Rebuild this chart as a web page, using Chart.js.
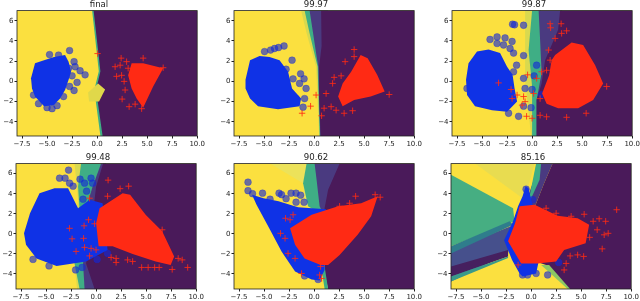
<!DOCTYPE html>
<html>
<head>
<meta charset="utf-8">
<script src="https://cdn.jsdelivr.net/npm/chart.js@4"></script>
<style>
  html, body { margin: 0; padding: 0; background: #fff; width: 640px; height: 301px; overflow: hidden; }
  canvas { position: absolute; }
</style>
</head>
<body>
<script>
const xTicks = [-7.5, -5, -2.5, 0, 2.5, 5, 7.5, 10];
const yTicks = [-4, -2, 0, 2, 4, 6];
const titles = ["final", "99.97", "99.87", "99.48", "90.62", "85.16"];

// panel 1: final
const p1Olive = [[-0.9,-1.1],[0.1,-0.2],[0.8,-0.8],[0.2,-2],[-0.8,-2]];
const p1Teal = [[-0.5,7],[-0.03,2.8],[0.17,1],[-0.28,-0.85],[0.33,-5.4],[0.55,-5.4],[-0.1,-0.85],[0.33,1],[0.13,2.8],[-0.35,7]];
const p1Purple = [[-0.43,7],[10,7],[10,-5.4],[0.45,-5.4],[-0.2,-0.85],[0.25,1],[0.05,2.8]];
const p1PurpleLight = [[0.1,-1.8],[1.2,-0.9],[2.1,-5.4],[0.45,-5.4]];
const p1BlueBody = [[-6.6,0.3],[-6.2,1.8],[-5.3,2.1],[-4.3,2.4],[-3.2,2.6],[-2.85,1.95],[-2.6,0.95],[-2.85,0.15],[-3.2,-0.85],[-3.7,-1.7],[-4.35,-2.35],[-5.3,-2.45],[-6.2,-1.5],[-6.5,-0.7]];
const p1Blue = [[-4.75,2.65],[-3.85,2.6],[-2.75,3.05],[-2.3,1.95],[-2.2,1.45],[-1.7,1.05],[-1.2,0.65],[-2,-0.1],[-2.75,-0.5],[-2.3,-0.9],[-3.35,-1.5],[-5,-2.6],[-4.5,-2.7],[-4,-2.4],[-5.85,-2.2],[-6.35,-1.35],[-2.5,0.55],[-2.85,1.3]];
const p1RedBody = [[3.45,1.8],[4.6,1.8],[6.6,1.3],[5.6,-0.5],[4.6,-2.6],[3.95,-1.7],[3.45,-0.7],[3.1,0.6]];
const p1Red = [[1.8,1.45],[2.4,2.3],[2.95,1.95],[1.95,0.5],[2.7,0],[2.8,-0.85],[2.5,-1.75],[3.2,-2.5],[3.8,-2.25],[4.45,-2.7],[4.6,2.3],[6.6,1.35],[0.05,2.75],[2.3,1.6],[2.45,0.6],[3.1,1.3]];

// panel 2: 99.97
const p2Olive = [[-1.3,7],[-0.75,4.75],[-0.1,2.45],[0.2,1.45],[0.35,-1.85],[0.5,-5.4],[0.7,-5.4],[0.7,7]];
const p2Teal = [[-0.95,7],[-0.45,4.75],[0.1,2.45],[0.35,1.45],[0.45,-1.85],[0.55,-5.4],[0.7,-5.4],[0.7,7]];
const p2PurpleMid = [[-0.45,7],[-0.1,4.75],[0.25,2.45],[0.42,1.45],[0.5,-1.85],[0.62,-5.4],[1,-5.4],[1.4,7]];
const p2Purple = [[0.7,7],[10,7],[10,-5.4],[0.65,-5.4],[0.52,-1.85],[0.5,1.45],[0.75,3.5]];
const p2BlueBody = [[-6.85,0.15],[-6.4,2.1],[-5.45,2.5],[-4.45,2.4],[-3.45,2.1],[-2.6,0.95],[-2.2,-0.7],[-1.3,-1.7],[-1.45,-2.45],[-3.6,-2.75],[-5.6,-2.45],[-6.4,-1.7],[-6.85,-0.7]];
const p2Blue = [[-4.95,2.95],[-4.35,3.1],[-3.95,3.25],[-3.55,3.35],[-3,3.5],[-2.2,2.1],[-1.35,0.75],[-2.1,0.25],[-1,0.25],[-1.45,-0.2],[-0.8,-0.7],[-0.95,-1.7],[-1.1,-2.55],[-2.8,1.2],[-1.8,-1.7]];
const p2RedBody = [[4.65,2.6],[5.35,2.3],[6.3,0.65],[7.05,-1],[5.65,-1.5],[4,-1.85],[2.85,-2.45],[2.4,-1.5],[2.85,-0.2],[3.7,0.95]];
const p2Red = [[4,3.15],[3.1,1.95],[4,2.45],[2,0.4],[2.7,0.55],[1.85,-0.2],[1.2,-1.2],[0.2,-1.35],[1,-2.65],[0.75,-3.4],[-0.35,-2.45],[-1.2,-3.15],[3.85,-2.9],[7.5,-1.3],[2.2,-2.85],[1.7,-2.5],[3,-3.15]];

// panel 3: 99.87
const p3Olive = [[-0.7,7],[-0.7,0.15],[-0.1,-5.4],[0.5,-5.4],[0.7,7]];
const p3Teal = [[0,7],[-0.35,3.1],[0,-0.5],[0,-5.4],[0.5,-5.4],[1,-0.5],[0.9,7]];
const p3PurpleMid = [[0.65,7],[0.8,4.1],[0.95,0.8],[0.45,-1.85],[0.45,-5.4],[3,-5.4],[3,7]];
const p3Purple = [[2.8,7],[10,7],[10,-5.4],[0.45,-5.4],[0.45,-1.85],[0.95,-0.2],[1.3,2.1],[2.6,5.1]];
const p3BlueBody = [[-6.6,0.15],[-6.35,1.8],[-5.5,2.95],[-4.35,3.15],[-3.2,2.8],[-2.5,1.45],[-1.95,0.65],[-1.75,-0.7],[-1.5,-2],[-2.5,-3],[-4,-2.85],[-5.7,-2.45],[-6.5,-1.35]];
const p3Blue = [[-1.95,5.65],[-1.75,5.6],[-0.85,5.55],[-4.2,4.15],[-3.5,4.4],[-2.7,4.3],[-2,3.95],[-3.5,3.75],[-2.85,3.6],[-2.2,3.25],[-1.85,2.8],[-0.85,2.55],[-1.55,1.6],[-1.85,0.95],[0.45,1.6],[0.2,0.55],[-0.85,0.3],[0,-0.8],[-0.7,-0.7],[-0.85,-2.45],[-1.35,-3.45],[-2.35,-3.15],[-0.1,-2.6],[-6.5,-0.7],[0.95,-1.3]];
const p3RedBody = [[2.3,2.6],[3.95,3.85],[5.1,3.6],[6.3,1.6],[7.1,-0.2],[6.1,-1.85],[4.6,-2.65],[2.6,-2.65],[1.45,-2.2],[1,-1.2],[1.7,0.6],[1.95,2.1]];
const p3Red = [[1.8,5.7],[1.85,5.3],[2.9,5.7],[3.45,5],[2.95,4.75],[2.3,4.25],[1.65,3.1],[1.8,2.1],[1.45,1.1],[0.95,0.95],[-0.45,0.65],[0.45,0.3],[-3.35,-0.15],[-2.1,-0.8],[-2,-1.7],[-1.5,-1.35],[-0.85,-1.5],[-1,-2.35],[-0.55,-3.45],[0,-3.65],[0.8,-3.35],[1.45,-3.5],[3.45,-3.55],[5.4,-3.15],[7.45,-0.5],[0.8,-1.7],[-0.7,-2],[0.15,-1.2]];

// panel 4: 99.48
const p4Olive = [[-2.15,7],[-1.8,3.4],[-2.3,-1.6],[-1.9,-5.5],[0,-5.5],[1,7]];
const p4Teal = [[-1.5,7],[-1.8,4.7],[-1.65,2.4],[-2.15,-2.95],[-1.65,-5.5],[0,-5.5],[1,7]];
const p4PurpleMid = [[0.5,7],[-0.35,4.7],[-0.85,3.05],[-1.3,-2.95],[-1.15,-5.5],[0,-5.5],[1,7]];
const p4Purple = [[0.7,7],[10,7],[10,-5.5],[-0.15,-5.5],[-1,-2.95],[-0.35,1.75],[0,4.7]];
const p4BlueBody = [[-7.2,0.05],[-6.6,2.05],[-5.65,4.05],[-4.15,4.55],[-2.8,4.55],[-1.8,2.55],[-0.65,3.4],[0.65,3.05],[1.15,-1.6],[-1,-2.75],[-3.95,-3.2],[-5.95,-2.45],[-7,-1.1]];
const p4Blue = [[-2.75,6.35],[-3.65,5.55],[-3.1,5.55],[-1.6,5.45],[-0.5,5.55],[-1.15,5.05],[-0.35,5.05],[-0.95,4.25],[-2.3,4.75],[-2.65,5.05],[-1.3,3.45],[-6.3,-2.55],[-4.7,-3.2],[-2.05,-3.6],[-1.4,-3.35],[0.1,-2.55],[1.15,-1.95]];
const p4RedBody = [[0.35,2.55],[2.65,4.05],[3.4,3.9],[4.95,1.9],[6.6,0.25],[7.8,-2.25],[7.45,-3.1],[5.95,-2.75],[3.65,-2],[1.65,-1.25],[0.25,-1.25],[0,1.05]];
const p4Red = [[1.2,5.35],[3.25,4.75],[2.4,4.5],[-2.65,0.55],[-1.2,0.8],[-0.75,1.4],[-0.15,1],[-2.4,-0.5],[-1.25,-0.45],[-1.15,-1.35],[-2,-1.75],[-0.5,-1.45],[-0.65,-2.2],[0,-1.6],[1.5,-2.35],[2,-2.45],[2,-2.85],[3.15,-2.6],[3.65,-2.75],[4.55,-3.35],[5.2,-3.35],[5.85,-3.35],[6.3,-3.35],[7.6,-3.55],[8.2,-2.45],[8.6,-2.6],[9.15,-3.35],[6.6,0.4],[-0.65,3.55],[1.15,3.75]];

// panel 5: 90.62
const p5Olive = [[-4.4,7],[-1.1,5.05],[-0.95,2.75],[0,2.75],[0.5,7]];
const p5Teal = [[-0.75,7],[-1.1,5.05],[-0.6,2.75],[1.05,1.75],[1.6,7]];
const p5PurpleMid = [[0.05,7],[0.25,5.4],[0.55,2.75],[1.05,1.75],[2.6,7]];
const p5Purple = [[2.55,7],[10,7],[10,-5.5],[1.4,-5.5],[1.05,-3.95],[1.05,2.55],[1.4,4.4]];
const p5Edge = [[0.7,-3.25],[1.05,-3.25],[1.4,-5.5],[1.05,-5.5]];
const p5BlueBody = [[-6.2,3.9],[-5.05,3.55],[-3.55,3.25],[-1.6,2.65],[1.2,2.45],[1.05,-3.6],[0.55,-4.65],[-0.25,-4.55],[-1.9,-3.75],[-3.25,-1.75],[-4.4,0.4],[-5.75,2.9]];
const p5Blue = [[-6.6,5.15],[-6.6,4.3],[-6.15,4],[-5.15,4.05],[-4.4,3.45],[-3.5,4.05],[-3.25,3.9],[-2.8,3.5],[-2.3,4.05],[-1.8,4.05],[-1.35,3.85],[-1.8,3.15],[-1,3.15],[0.4,-4.55],[-0.95,-4.2]];
const p5RedBody = [[-2.4,0.55],[-0.25,1.9],[2.4,2.75],[4.7,3.05],[6.35,3.75],[5.7,1.75],[4.35,-0.1],[2.55,-2.1],[1.4,-3.1],[0.65,-3.1],[-0.95,-2.45],[-1.9,-1.1]];
const p5Red = [[6.6,3.65],[6.1,3.9],[4.15,3.75],[-2.85,1.55],[-2.1,1.9],[-2.4,1.4],[-3.35,0.05],[-2.9,-0.45],[-2.6,-1.95],[-1.9,-2.45],[-1.25,-3.95],[0.65,-3.25],[0.55,-4.1],[0.75,-4.45],[2.55,2.75],[3.55,3.05]];

// panel 6: 85.16
const p6Olive = [[-5.6,7],[0.35,7],[-0.65,3.4]];
const p6Green = [[-8,5.9],[-1.8,2.55],[-1.65,1.25],[-8,-1.25]];
const p6Streak = [[-8,-1.25],[-2.15,1.25],[-1.8,0.9],[-8,-1.95]];
const p6Band = [[-8,-1.6],[-1.9,0.8],[-2.3,-1.95],[-8,-4.75]];
const p6BandDark = [[-8,-3.25],[-2.3,-1.6],[-2.3,-2.25],[-8,-4.25]];
const p6BandEdge = [[-8,-4.25],[-2.3,-2.25],[-2.3,-2.4],[-8,-4.75]];
const p6TopTeal = [[0.5,7],[1,7],[0.85,5.4],[-0.35,2.75]];
const p6TopMid = [[0.85,7],[2.15,7],[1.3,5.05],[0,1.75],[-0.65,2.75]];
const p6Purple = [[2.15,7],[10,7],[10,-5.5],[3.8,-5.5],[1.5,-3.1],[0,-2.6],[0,1.75],[1.3,5.05]];
const p6Edge = [[1,-3.1],[1.8,-3.1],[3.9,-5.5],[3.65,-5.5]];
const p6BlueBody = [[-0.55,4.75],[-0.25,4.55],[0,3.4],[0.5,1.75],[1,-1.6],[0.5,-3.95],[-0.85,-4.25],[-1.15,-3.95],[-1.9,-2.6],[-2.7,-0.65],[-1.8,1.25],[-1.3,2.75],[-0.85,3.75]];
const p6Blue = [[-0.5,4.45],[1.65,-4.1],[2.75,-2.85],[0.15,3.4],[0.5,-3.95],[-0.85,-4.1],[-0.35,-4.1]];
const p6RedBody = [[-1.15,2.75],[0.35,2.9],[2.65,1.8],[4.65,1.55],[5.8,0.9],[5.45,-0.95],[3.3,-1.6],[2.5,-2.75],[0.65,-2.95],[-1,-2.95],[-2.3,-0.75],[-1.6,1.05]];
const p6Red = [[8.55,2.4],[7.45,1.25],[6.8,1.5],[5.3,1.95],[6.2,1.25],[7.3,-0.1],[7.7,0.05],[7.1,-1.5],[5.85,-0.35],[5.25,-2.25],[4.65,-2.1],[3.5,-2.95],[3.3,-3.6],[3.9,-2.2],[1.5,2.55],[2.5,2.05],[4,1.75],[6.6,0.4],[-1.3,-3.1]];

const YELLOW = "#fbe03f";
const OLIVE = "#d9d94e";
const TEAL = "#3fae85";
const MID = "#4a3a80";
const PURPLE = "#4a1a5a";
const BLUE = "#0f32e6";
const RED = "#ff2a14";

const panels = [
  { left: 17, top: 11, ymin: -5.4, layers: [[p1PurpleLight, "#4d2a68"], [p1Purple, PURPLE], [p1Teal, TEAL], [p1Olive, "#e0d84a"]], blueBody: p1BlueBody, blue: p1Blue, redBody: p1RedBody, red: p1Red },
  { left: 234, top: 11, ymin: -5.4, layers: [[p2Olive, OLIVE], [p2Teal, TEAL], [p2PurpleMid, MID], [p2Purple, PURPLE]], blueBody: p2BlueBody, blue: p2Blue, redBody: p2RedBody, red: p2Red },
  { left: 452, top: 11, ymin: -5.4, layers: [[p3Olive, OLIVE], [p3Teal, TEAL], [p3PurpleMid, MID], [p3Purple, PURPLE]], blueBody: p3BlueBody, blue: p3Blue, redBody: p3RedBody, red: p3Red },
  { left: 16, top: 164, ymin: -5.5, layers: [[p4Olive, OLIVE], [p4Teal, TEAL], [p4PurpleMid, MID], [p4Purple, PURPLE]], blueBody: p4BlueBody, blue: p4Blue, redBody: p4RedBody, red: p4Red },
  { left: 234, top: 164, ymin: -5.5, layers: [[p5Olive, "#ece25a"], [p5Teal, TEAL], [p5PurpleMid, MID], [p5Purple, PURPLE], [p5Edge, TEAL]], blueBody: p5BlueBody, blue: p5Blue, redBody: p5RedBody, red: p5Red },
  { left: 451, top: 164, ymin: -5.5, layers: [[p6Olive, "#e8dc50"], [p6Green, "#46ae82"], [p6Band, "#46508c"], [p6Streak, "#2f7d8c"], [p6BandDark, "#46205f"], [p6BandEdge, "#3a9a8a"], [p6TopMid, MID], [p6TopTeal, TEAL], [p6Purple, PURPLE], [p6Edge, "#8cc864"]], blueBody: p6BlueBody, blue: p6Blue, redBody: p6RedBody, red: p6Red }
];

const frame = {
  id: "frame",
  afterDraw(chart) {
    const a = chart.chartArea;
    chart.ctx.save();
    chart.ctx.strokeStyle = "#222";
    chart.ctx.lineWidth = 0.8;
    chart.ctx.strokeRect(a.left, a.top, a.right - a.left, a.bottom - a.top);
    chart.ctx.restore();
  }
};

function pts(list) {
  return list.map(p => ({ x: p[0], y: p[1] }));
}

function shape(list, color) {
  return { data: pts(list), showLine: true, fill: "shape", backgroundColor: color, borderWidth: 0, pointRadius: 0, tension: 0 };
}

function drawPanel(p, i) {
  const canvas = document.createElement("canvas");
  const topSpace = i < 3 ? 11 : 14;
  canvas.width = 17 + 181 + 8;
  canvas.height = topSpace + 125 + 13;
  canvas.style.left = (p.left - 17) + "px";
  canvas.style.top = (p.top - topSpace) + "px";
  document.body.appendChild(canvas);

  const sets = [
    shape([[-8, 7], [10, 7], [10, -5.5], [-8, -5.5]], YELLOW),
    ...p.layers.map(l => shape(l[0], l[1])),
    { data: pts(p.blue), pointStyle: "circle", pointRadius: 3.4, backgroundColor: "rgba(20,40,215,0.62)", borderColor: "rgba(20,40,215,0.62)", borderWidth: 0.5 },
    shape(p.blueBody, BLUE),
    { data: pts(p.red), pointStyle: "cross", pointRadius: 3.2, borderColor: "rgba(255,42,20,0.85)", borderWidth: 1 },
    shape(p.redBody, RED)
  ];
  sets.forEach((s, n) => { s.order = sets.length - n; });

  new Chart(canvas, {
    type: "scatter",
    data: { datasets: sets },
    plugins: [frame],
    options: {
      responsive: false,
      animation: false,
      layout: { padding: { left: 0, right: 8, top: 0, bottom: 0 } },
      plugins: {
        legend: { display: false },
        tooltip: { enabled: false },
        title: {
          display: true,
          text: titles[i],
          color: "#222",
          font: { family: "DejaVu Sans", size: 8.6, weight: "normal", lineHeight: 1 },
          padding: { top: i < 3 ? 0 : 3, bottom: 2 }
        }
      },
      scales: {
        x: {
          type: "linear",
          min: -8,
          max: 10,
          afterBuildTicks: s => { s.ticks = xTicks.map(v => ({ value: v })); },
          afterFit: s => { s.height = 13; },
          grid: { drawOnChartArea: false, tickLength: 2.5, color: "#222" },
          border: { display: false },
          ticks: {
            autoSkip: false, maxRotation: 0, padding: 1, color: "#222",
            font: { family: "DejaVu Sans", size: 7 },
            callback: v => String(v === Math.round(v) ? v.toFixed(1) : v).replace("-", "\u2212")
          }
        },
        y: {
          type: "linear",
          min: p.ymin,
          max: 7,
          afterBuildTicks: s => { s.ticks = yTicks.map(v => ({ value: v })); },
          afterFit: s => { s.width = 17; },
          grid: { drawOnChartArea: false, tickLength: 2.5, color: "#222" },
          border: { display: false },
          ticks: {
            autoSkip: false, padding: 1, color: "#222",
            font: { family: "DejaVu Sans", size: 7 },
            callback: v => String(v).replace("-", "\u2212")
          }
        }
      }
    }
  });
}

panels.forEach(drawPanel);
</script>
</body>
</html>
